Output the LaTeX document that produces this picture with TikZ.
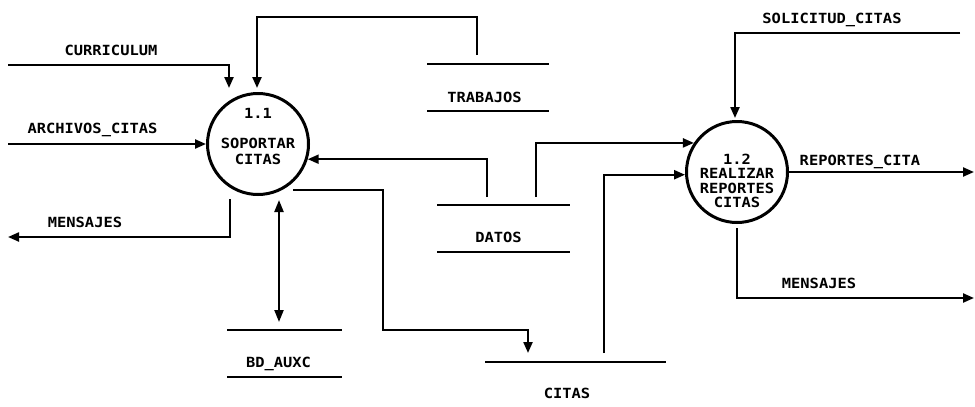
\documentclass[tikz,border=0pt]{standalone}
\usepackage{fontspec}
\newfontfamily\dfdfont[FakeStretch=1.1]{DejaVu Sans Mono}
\usetikzlibrary{arrows.meta}
\begin{document}
\begin{tikzpicture}[x=1pt,y=-1pt,
  every node/.style={font=\dfdfont\bfseries\fontsize{14}{16}\selectfont, inner sep=0pt},
  proc/.style={circle, draw, line width=3pt, minimum size=101pt},
  flow/.style={line width=2.2pt, -{Triangle[length=11pt,width=9pt]}},
  bothflow/.style={line width=2.2pt, {Triangle[length=12pt,width=9pt]}-{Triangle[length=12pt,width=9pt]}},
  lbl/.style={anchor=base},
  storeline/.style={line width=2.2pt},
]
\useasboundingbox (0,0) rectangle (975,407);

% processes
\node[proc, label={[align=center, yshift=8pt]center:1.1\\[14pt]SOPORTAR\\CITAS}] (p11) at (258,144) {};
\node[proc, label={[align=center, yshift=-8.7pt, font=\dfdfont\bfseries\fontsize{14}{14.5}\selectfont]center:1.2\\REALIZAR\\REPORTES\\CITAS}] (p12) at (737,172) {};

% data stores
\node[lbl] (trab) at (484.5,102) {TRABAJOS};
\draw[storeline] (427,64) -- (549,64);
\draw[storeline] (427,111) -- (549,111);

\node[lbl] (datos) at (498.5,242) {DATOS};
\draw[storeline] (437,205) -- (570,205);
\draw[storeline] (437,252) -- (570,252);

\node[lbl] (bdaux) at (278.5,367) {BD\_AUXC};
\draw[storeline] (227,330) -- (342,330);
\draw[storeline] (227,377) -- (342,377);

\node[lbl] (citas) at (567,398) {CITAS};
\draw[storeline] (485,362) -- (666,362);

% flow labels
\node[lbl] (lcur) at (111,55) {CURRICULUM};
\node[lbl] (larch) at (92.5,133) {ARCHIVOS\_CITAS};
\node[lbl] (lmen1) at (85,227) {MENSAJES};
\node[lbl] (lsol) at (832,23) {SOLICITUD\_CITAS};
\node[lbl] (lrep) at (860,165) {REPORTES\_CITA};
\node[lbl] (lmen2) at (819,288) {MENSAJES};

% coordinates for free ends
\coordinate (curS) at (8,65);
\coordinate (curE) at (229,88);
\coordinate (trabS) at (477,55);
\coordinate (trabE) at (257,88);
\coordinate (arcS) at (8,144);
\coordinate (dat1S) at (487,197);
\coordinate (dat2S) at (536,197);
\coordinate (citS) at (604,353);
\coordinate (outS) at (293,190);
\coordinate (outE) at (528,353);
\coordinate (men1S) at (230,199);
\coordinate (men1E) at (8,237);
\coordinate (bdS) at (279,200);
\coordinate (bdE) at (279,322);
\coordinate (solS) at (960,33);
\coordinate (solE) at (735,118);
\coordinate (repE) at (974,172);
\coordinate (men2S) at (737,228);
\coordinate (men2E) at (974,298);

% connectors
\draw[flow] (curS) -| (curE);
\draw[flow] (trabS) |- (257,17) -- (trabE);
\draw[flow] (arcS) -- (p11.west);
\draw[flow] (dat1S) |- (p11.-17);
\draw[flow] (dat2S) |- (p12.146);
\draw[flow] (citS) |- (p12.183);
\draw[flow] (outS) -- (383,190) |- (528,330) -- (outE);
\draw[flow] (men1S) |- (men1E);
\draw[bothflow] (bdS) -- (bdE);
\draw[flow] (solS) -| (solE);
\draw[flow] (p12.east) -- (repE);
\draw[flow] (men2S) |- (men2E);
\end{tikzpicture}
\end{document}
